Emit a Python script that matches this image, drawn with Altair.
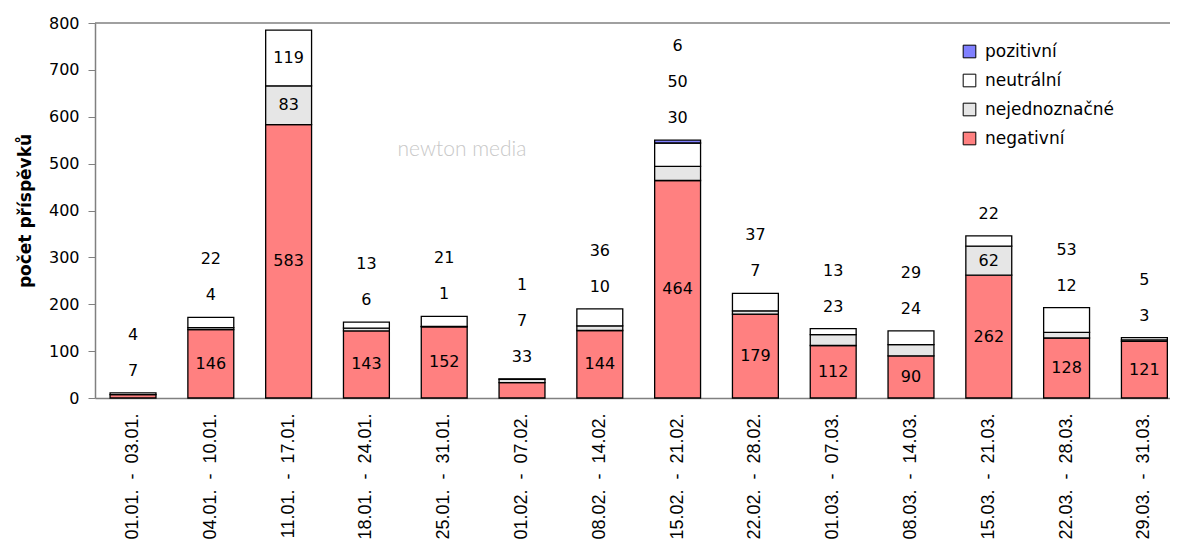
import altair as alt
import pandas as pd

weeks = ["01.01. - 03.01.", "04.01. - 10.01.", "11.01. - 17.01.", "18.01. - 24.01.",
         "25.01. - 31.01.", "01.02. - 07.02.", "08.02. - 14.02.", "15.02. - 21.02.",
         "22.02. - 28.02.", "01.03. - 07.03.", "08.03. - 14.03.", "15.03. - 21.03.",
         "22.03. - 28.03.", "29.03. - 31.03."]
negativni = [7, 146, 583, 143, 152, 33, 144, 464, 179, 112, 90, 262, 128, 121]
nejednoznacne = [0, 4, 83, 6, 1, 7, 10, 30, 7, 23, 24, 62, 12, 3]
neutralni = [4, 22, 119, 13, 21, 1, 36, 50, 37, 13, 29, 22, 53, 5]
pozitivni = [0, 0, 0, 0, 0, 0, 0, 6, 0, 0, 0, 0, 0, 0]

series_names = ["negativní", "nejednoznačné", "neutrální", "pozitivní"]
series_vals = [negativni, nejednoznacne, neutralni, pozitivni]
legend_order = ["pozitivní", "neutrální", "nejednoznačné", "negativní"]
colors = ["#8080FF", "#FFFFFF", "#E6E6E6", "#FF8080"]

def label_week(w):
    a, b = w.split(" - ")
    return a + " \u00a0-\u00a0 " + b

rows = []
for i, w in enumerate(weeks):
    start = 0
    total = sum(s[i] for s in series_vals)
    rank = 0
    for k, (name, vals) in enumerate(zip(series_names, series_vals)):
        v = vals[i]
        if v <= 0:
            continue
        inside = v >= 60
        rows.append({"week": label_week(w), "cat": name, "value": v, "order": k,
                     "mid": start + v / 2, "total": total, "inside": inside,
                     "rank": -1 if inside else rank})
        if not inside:
            rank += 1
        start += v
df = pd.DataFrame(rows)
week_labels = [label_week(w) for w in weeks]

FONT = "DejaVu Sans"

x = alt.X("week:N", sort=week_labels, title=None,
          scale=alt.Scale(paddingInner=0.41, paddingOuter=0.114, align=0.85),
          axis=alt.Axis(labelAngle=270, labelFont="Liberation Sans", labelFontSize=18,
                        labelColor="black", ticks=False, tickSize=0, labelPadding=15,
                        domainColor="#808080", domainWidth=1.5, labelBaseline="middle",
                        labelAlign="right"))

yscale = alt.Scale(domain=[0, 800], nice=False)

bars = alt.Chart(df).mark_bar(stroke="black", strokeWidth=1.3).encode(
    x=x,
    y=alt.Y("value:Q", stack="zero", scale=yscale, title="počet příspěvků",
            axis=alt.Axis(values=list(range(0, 801, 100)), grid=False, tickSize=7,
                          tickColor="#808080", domainColor="#808080", domainWidth=1.5,
                          labelFont=FONT, labelFontSize=16, labelColor="black",
                          labelPadding=9, titleFont=FONT, titleFontSize=17,
                          titleFontWeight="bold", titleColor="black", titlePadding=14)),
    color=alt.Color("cat:N", scale=alt.Scale(domain=legend_order, range=colors),
                    legend=alt.Legend(orient="none", legendX=866, legendY=20, title=None,
                                      symbolType="square", symbolSize=160,
                                      symbolStrokeColor="black", symbolStrokeWidth=1,
                                      labelFont=FONT, labelFontSize=17, labelColor="black",
                                      rowPadding=11, labelOffset=7)),
    order=alt.Order("order:Q"),
)

inside_text = alt.Chart(df).transform_filter("datum.inside").mark_text(
    font=FONT, fontSize=16, color="black", baseline="middle").encode(
    x=alt.X("week:N", sort=week_labels), y=alt.Y("mid:Q", scale=yscale), text="value:Q")

outside_layers = []
for r in range(3):
    outside_layers.append(
        alt.Chart(df).transform_filter(f"datum.rank == {r}").mark_text(
            font=FONT, fontSize=16, color="black", baseline="middle", dy=-(22 + 36 * r)).encode(
            x=alt.X("week:N", sort=week_labels), y=alt.Y("total:Q", scale=yscale),
            text="value:Q"))

top_line = alt.Chart(pd.DataFrame({"y": [800]})).mark_rule(color="#808080", strokeWidth=1.5).encode(
    y=alt.Y("y:Q", scale=yscale))

watermark = alt.Chart(pd.DataFrame({"t": ["newton media"]})).mark_text(
    font="Lato", fontSize=21, fontWeight=300, color="#C8C8C8").encode(
    x=alt.value(367), y=alt.value(127), text="t:N")

chart = alt.layer(top_line, watermark, bars, inside_text, *outside_layers).properties(
    width=1075, height=375,
    autosize=alt.AutoSizeParams(type="none"),
    padding={"left": 87, "top": 15, "right": 0, "bottom": 152},
).configure_view(stroke=None)

chart.save("out.html", embed_options={"renderer": "svg", "actions": False})
